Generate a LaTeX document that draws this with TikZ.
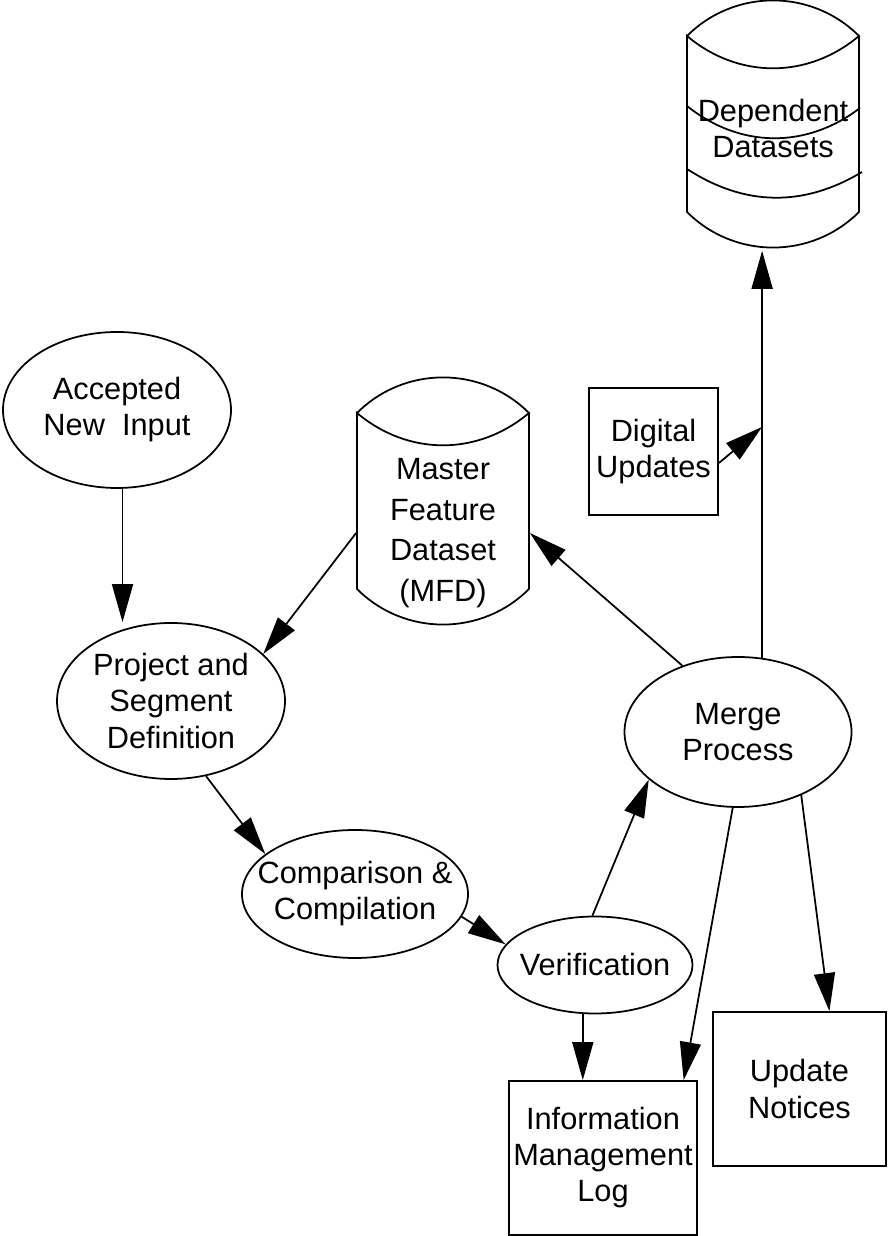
\documentclass[tikz,border=0pt]{standalone}
\usepackage{fontspec}
\setmainfont{Liberation Sans}
\usetikzlibrary{shapes.geometric, arrows.meta, calc}

\begin{document}
\begin{tikzpicture}[
    font=\fontsize{17.5}{20.5}\selectfont,
    line width=1pt,
    proc/.style={ellipse, draw, line width=1pt, inner xsep=-1.5cm, inner ysep=0pt, align=center},
    doc/.style={rectangle, draw, line width=1pt, inner sep=0pt, align=center},
    store/.style={rectangle, inner sep=0pt, minimum width=3.44cm, align=center},
    arrow/.style={-{Triangle[length=0.76cm, width=0.42cm]}, line width=1pt},
    drum/.pic={
      \draw (-1.72,1.76) to[bend left=45] (1.72,1.76) to[bend left=40] (-1.72,1.76)
            -- (-1.72,-1.76) to[bend right=45] (1.72,-1.76) -- (1.72,1.76);
    }
  ]
  \useasboundingbox (0,0) rectangle (17.76,24.72);

  % processes
  \node[proc, minimum width=4.56cm, minimum height=3.12cm] (acc) at (2.34,16.52) {Accepted\\New\ \ Input};
  \node[proc, minimum width=4.56cm, minimum height=3.12cm] (proj) at (3.42,10.70) {Project and\\Segment\\Definition};
  \node[proc, minimum width=4.52cm, minimum height=2.56cm] (comp) at (7.10,6.84) {Comparison \&\\Compilation};
  \node[proc, minimum width=3.90cm, minimum height=1.94cm] (verif) at (11.90,5.42) {Verification};
  \node[proc, minimum width=4.54cm, minimum height=3.00cm] (merge) at (14.76,10.08) {Merge\\Process};

  % datasets
  \pic at (8.86,14.70) {drum};
  \node[store, font=\fontsize{17.5}{23}\selectfont] (mfd) at (8.86,14.06) {Master\\Feature\\Dataset\\(MFD)};
  \pic at (15.46,22.24) {drum};
  \draw (13.74,22.60) to[bend right=38] (17.20,22.56);
  \draw (13.74,21.34) to[bend right=32] (17.24,21.28);
  \node[store, minimum height=4.84cm] (dep) at (15.46,22.14) {Dependent\\Datasets};

  % outputs
  \node[doc, minimum width=2.58cm, minimum height=2.54cm] (dig) at (13.07,15.69) {Digital\\Updates};
  \node[doc, minimum width=3.76cm, minimum height=3.08cm] (info) at (12.06,1.56) {Information\\Management\\Log};
  \node[doc, minimum width=3.46cm, minimum height=3.08cm] (upd) at (15.99,2.94) {Update\\Notices};

  \coordinate (tap) at (15.24,16.18);

  \draw[arrow] (acc.-86) -- (acc.-86 |- proj.north);
  \draw[arrow] (mfd.west) -- (proj.27);
  \draw[arrow] (proj.-65) -- (comp.156);
  \draw[arrow] (comp.-12) -- (verif.167);
  \draw[arrow] (verif.93) -- (merge.208);
  \draw[arrow] (verif.256) -- (verif.256 |- info.north);
  \draw[arrow] (merge.130) -- (mfd.east);
  \draw[arrow] (merge.72) -- (merge.72 |- dep.south);
  \draw[arrow] (dig.-10) -- (tap);
  \draw[arrow] (merge.266) -- (info.44);
  \draw[arrow] (merge.-45) -- (upd.69);
\end{tikzpicture}
\end{document}
